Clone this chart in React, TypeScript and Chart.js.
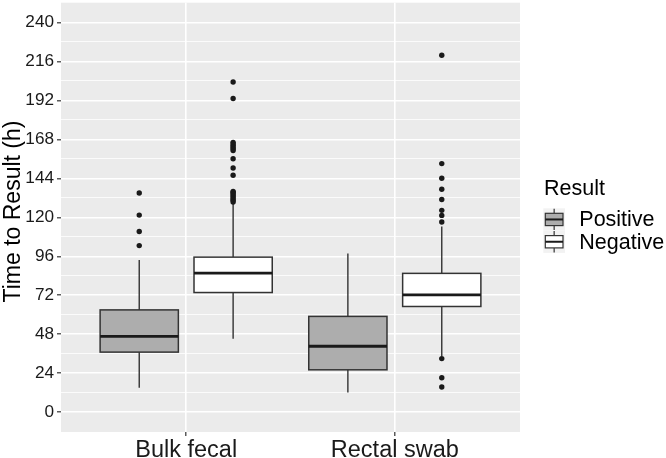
import React, { useEffect, useRef } from 'react';
import { Chart, registerables } from 'chart.js';

Chart.register(...registerables);

// ---- data ----
const categories = ['Bulk fecal', 'Rectal swab'];
const seriesNames = ['Positive', 'Negative'];
const seriesFill = ['#ADADAD', '#FFFFFF'];
const yTitle = 'Time to Result (h)';
const legendTitle = 'Result';

const yTicks = [0, 24, 48, 72, 96, 120, 144, 168, 192, 216, 240];
const yMinorTicks = [12, 36, 60, 84, 108, 132, 156, 180, 204, 228];

// Positive series (per category)
const positiveLow = [15.1, 12.2];
const positiveQ1 = [37.0, 26.1];
const positiveMedian = [46.7, 40.6];
const positiveQ3 = [63.0, 59.0];
const positiveHigh = [93.7, 97.7];
const positiveOutliersBulk = [102.6, 111.3, 121.4, 135.0];
const positiveOutliersRectal: number[] = [];

// Negative series (per category)
const negativeLow = [45.3, 34.6];
const negativeQ1 = [73.7, 65.1];
const negativeMedian = [85.7, 72.2];
const negativeQ3 = [95.5, 85.5];
const negativeHigh = [128.3, 114.3];
const negativeOutliersBulk = [129.5, 130.5, 131.5, 132.5, 133.5, 134.5, 135.3, 136.0, 145.9, 150.4, 156.1, 161.2, 162.2, 163.2, 164.2, 165.2, 166.2, 193.2, 203.4];
const negativeOutliersRectal = [15.5, 21.2, 33.0, 117.1, 121.2, 124.3, 131.0, 137.3, 144.1, 153.1, 219.8];

const DODGE = 0.225;
const HALF_BOX = 0.1875;
const FONT = '"Liberation Sans", Arial, sans-serif';

export default function App() {
  const canvasRef = useRef<HTMLCanvasElement | null>(null);

  useEffect(() => {
    document.body.style.margin = '0';
    const canvas = canvasRef.current;
    if (!canvas) return;

    const stats = [
      { low: positiveLow, q1: positiveQ1, med: positiveMedian, q3: positiveQ3, high: positiveHigh },
      { low: negativeLow, q1: negativeQ1, med: negativeMedian, q3: negativeQ3, high: negativeHigh },
    ];
    const outliers = [
      [positiveOutliersBulk, positiveOutliersRectal],
      [negativeOutliersBulk, negativeOutliersRectal],
    ];

    const pointData: { x: number; y: number }[] = [];
    outliers.forEach((perCat, s) => {
      perCat.forEach((vals, c) => {
        const xc = c + 1 + (s === 0 ? -DODGE : DODGE);
        vals.forEach((v) => pointData.push({ x: xc, y: v }));
      });
    });

    const majorSet = new Set(yTicks);

    const panelBg = {
      id: 'panelBg',
      beforeDraw(chart: any) {
        const { ctx, chartArea } = chart;
        ctx.save();
        ctx.fillStyle = '#EBEBEB';
        ctx.fillRect(chartArea.left, chartArea.top, chartArea.right - chartArea.left, chartArea.bottom - chartArea.top);
        ctx.restore();
      },
    };

    const boxes = {
      id: 'boxes',
      beforeDatasetsDraw(chart: any) {
        const { ctx } = chart;
        const xs = chart.scales.x;
        const ys = chart.scales.y;
        ctx.save();
        stats.forEach((st, s) => {
          categories.forEach((_, c) => {
            const xc = c + 1 + (s === 0 ? -DODGE : DODGE);
            const px = xs.getPixelForValue(xc);
            const pl = xs.getPixelForValue(xc - HALF_BOX);
            const pr = xs.getPixelForValue(xc + HALF_BOX);
            const yLow = ys.getPixelForValue(st.low[c]);
            const yQ1 = ys.getPixelForValue(st.q1[c]);
            const yMed = ys.getPixelForValue(st.med[c]);
            const yQ3 = ys.getPixelForValue(st.q3[c]);
            const yHigh = ys.getPixelForValue(st.high[c]);
            ctx.strokeStyle = '#333333';
            ctx.lineWidth = 1.4;
            ctx.beginPath();
            ctx.moveTo(px, yHigh);
            ctx.lineTo(px, yQ3);
            ctx.moveTo(px, yQ1);
            ctx.lineTo(px, yLow);
            ctx.stroke();
            ctx.fillStyle = seriesFill[s];
            ctx.fillRect(pl, yQ3, pr - pl, yQ1 - yQ3);
            ctx.lineWidth = 1.5;
            ctx.strokeRect(pl, yQ3, pr - pl, yQ1 - yQ3);
            ctx.strokeStyle = '#1A1A1A';
            ctx.lineWidth = 2.8;
            ctx.beginPath();
            ctx.moveTo(pl, yMed);
            ctx.lineTo(pr, yMed);
            ctx.stroke();
          });
        });
        ctx.restore();
      },
    };

    const textPlugin = {
      id: 'ggText',
      afterDraw(chart: any) {
        const { ctx } = chart;
        ctx.save();
        // y-axis title
        ctx.save();
        ctx.translate(19.5, 211.5);
        ctx.rotate(-Math.PI / 2);
        ctx.fillStyle = '#000000';
        ctx.font = `23px ${FONT}`;
        ctx.textAlign = 'center';
        ctx.textBaseline = 'alphabetic';
        ctx.fillText(yTitle, 0, 0);
        ctx.restore();

        // legend
        ctx.fillStyle = '#000000';
        ctx.font = `21.5px ${FONT}`;
        ctx.textBaseline = 'alphabetic';
        ctx.textAlign = 'left';
        ctx.fillText(legendTitle, 544, 195);
        const keyL = 543.3, keyW = 21.7, keyH = 22.3;
        const tops = [208.3, 230.6];
        seriesNames.forEach((name, s) => {
          const top = tops[s];
          ctx.fillStyle = '#F2F2F2';
          ctx.fillRect(keyL, top, keyW, keyH);
          const cx = keyL + keyW / 2;
          const bl = keyL + 2, br = keyL + keyW - 2;
          const bt = top + 5, bb = top + keyH - 5;
          ctx.strokeStyle = '#333333';
          ctx.lineWidth = 1.2;
          ctx.beginPath();
          ctx.moveTo(cx, top + 0.5);
          ctx.lineTo(cx, bt);
          ctx.moveTo(cx, bb);
          ctx.lineTo(cx, top + keyH - 0.5);
          ctx.stroke();
          ctx.fillStyle = seriesFill[s];
          ctx.fillRect(bl, bt, br - bl, bb - bt);
          ctx.strokeRect(bl, bt, br - bl, bb - bt);
          ctx.strokeStyle = '#1A1A1A';
          ctx.lineWidth = 2;
          ctx.beginPath();
          ctx.moveTo(bl, (bt + bb) / 2);
          ctx.lineTo(br, (bt + bb) / 2);
          ctx.stroke();
          ctx.fillStyle = '#000000';
          ctx.textBaseline = 'middle';
          ctx.fillText(name, 579.3, top + keyH / 2 + 1);
          ctx.textBaseline = 'alphabetic';
        });
        ctx.restore();
      },
    };

    const chart = new Chart(canvas, {
      type: 'scatter',
      data: {
        datasets: [
          {
            label: 'outliers',
            data: pointData,
            pointRadius: 2.7,
            pointBackgroundColor: '#1A1A1A',
            pointBorderWidth: 0,
            pointHoverRadius: 2.7,
          },
        ],
      },
      options: {
        responsive: false,
        animation: false,
        events: [],
        layout: { padding: { left: 0, top: 0, right: 146, bottom: 0 } },
        plugins: {
          legend: { display: false },
          tooltip: { enabled: false },
        },
        scales: {
          x: {
            type: 'linear',
            min: 0.4,
            max: 2.6,
            afterFit(scale: any) {
              scale.height = 26;
              scale.paddingLeft = 0;
              scale.paddingRight = 0;
            },
            afterBuildTicks(scale: any) {
              scale.ticks = categories.map((_, i) => ({ value: i + 1 }));
            },
            border: { display: false },
            grid: {
              color: '#FFFFFF',
              lineWidth: 1.6,
              tickColor: '#333333',
              tickLength: 4,
              tickWidth: 1.2,
            },
            ticks: {
              autoSkip: false,
              maxRotation: 0,
              padding: 0,
              color: '#1A1A1A',
              font: { size: 23.5, family: FONT },
              callback: (_v: any, i: number) => categories[i],
            },
          },
          y: {
            type: 'linear',
            min: -12.2,
            max: 252.2,
            afterFit(scale: any) {
              scale.width = 61;
              scale.paddingTop = 0;
              scale.paddingBottom = 0;
            },
            afterBuildTicks(scale: any) {
              const all = [...yTicks, ...yMinorTicks].sort((a, b) => a - b);
              scale.ticks = all.map((v) => ({ value: v }));
            },
            border: { display: false },
            grid: {
              color: '#FFFFFF',
              lineWidth: (ctx: any) => (ctx.tick && majorSet.has(ctx.tick.value) ? 1.6 : 0.8),
              tickColor: (ctx: any) => (ctx.tick && majorSet.has(ctx.tick.value) ? '#333333' : 'rgba(0,0,0,0)'),
              tickLength: 4,
              tickWidth: 1.2,
            },
            ticks: {
              autoSkip: false,
              padding: 3,
              color: '#1A1A1A',
              font: { size: 17.2, family: FONT },
              callback: (v: any) => (majorSet.has(v) ? String(v) : ''),
            },
            title: { display: false },
          },
        },
      },
      plugins: [panelBg, boxes, textPlugin],
    } as any);

    return () => chart.destroy();
  }, []);

  return (
    <div style={{ position: 'relative', width: 666, height: 458, background: '#FFFFFF' }}>
      <canvas ref={canvasRef} width={666} height={458} style={{ display: 'block' }} />
    </div>
  );
}
